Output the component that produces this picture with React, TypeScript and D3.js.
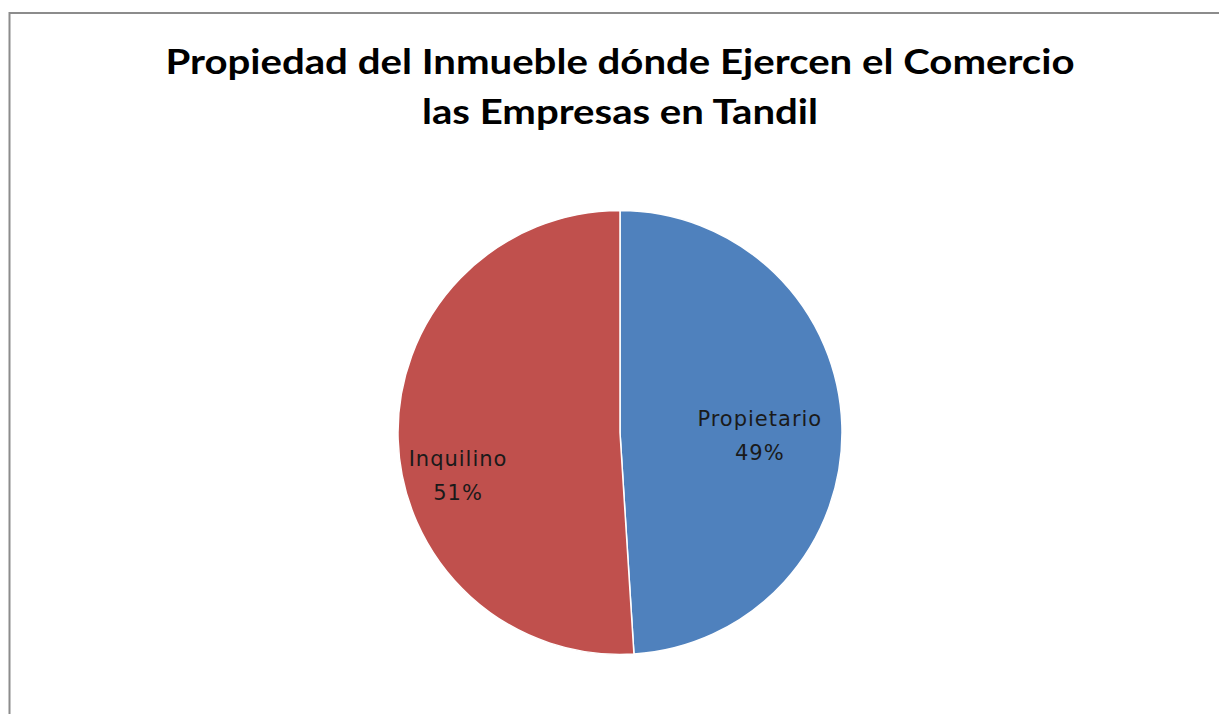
import React from "react";
import * as d3 from "d3";

const categories = ["Propietario", "Inquilino"];
const values = [49, 51];
const colors = ["#4F81BD", "#C0504D"];
const titleLines = ["Propiedad del Inmueble dónde Ejercen el Comercio", "las Empresas en Tandil"];

const W = 1219;
const H = 714;
const cx = 620;
const cy = 432.5;
const R = 222;
// label placement tweaks (Excel best-fit style)
const labelRadius = [0.63, 0.73];
const labelDy = [7, 37];

export default function App() {
  const pie = d3.pie<number>().sort(null).value((d) => d)(values);
  const arc = d3.arc<d3.PieArcDatum<number>>().innerRadius(0).outerRadius(R);
  return (
    <svg width={W} height={H} style={{ position: "absolute", left: 0, top: 0, background: "#fff" }}>
      <rect x={9.5} y={13} width={W + 20} height={H + 20} fill="#fff" stroke="#8c8c8c" strokeWidth={2} />
      <g fontFamily="Lato, sans-serif" fontWeight="bold" fontSize={35} fill="#000" textAnchor="middle">
        {titleLines.map((t, i) => (
          <text key={i} x={cx} y={74 + i * 50} textLength={i === 0 ? 909 : 396} lengthAdjust="spacingAndGlyphs">
            {t}
          </text>
        ))}
      </g>
      <g transform={`translate(${cx},${cy})`}>
        {pie.map((p, i) => (
          <path key={i} d={arc(p) || ""} fill={colors[i]} stroke="#fff" strokeWidth={1.5} />
        ))}
        {pie.map((p, i) => {
          const mid = (p.startAngle + p.endAngle) / 2;
          const r = R * labelRadius[i];
          const x = r * Math.sin(mid);
          const y = -r * Math.cos(mid) + labelDy[i];
          return (
            <text key={i} x={x} y={y} textAnchor="middle" fontFamily="'DejaVu Sans', sans-serif" fontSize={21} letterSpacing={1} fill="#1a1a1a">
              <tspan x={x} dy={-9}>{categories[i]}</tspan>
              <tspan x={x} dy={34}>{`${values[i]}%`}</tspan>
            </text>
          );
        })}
      </g>
    </svg>
  );
}
